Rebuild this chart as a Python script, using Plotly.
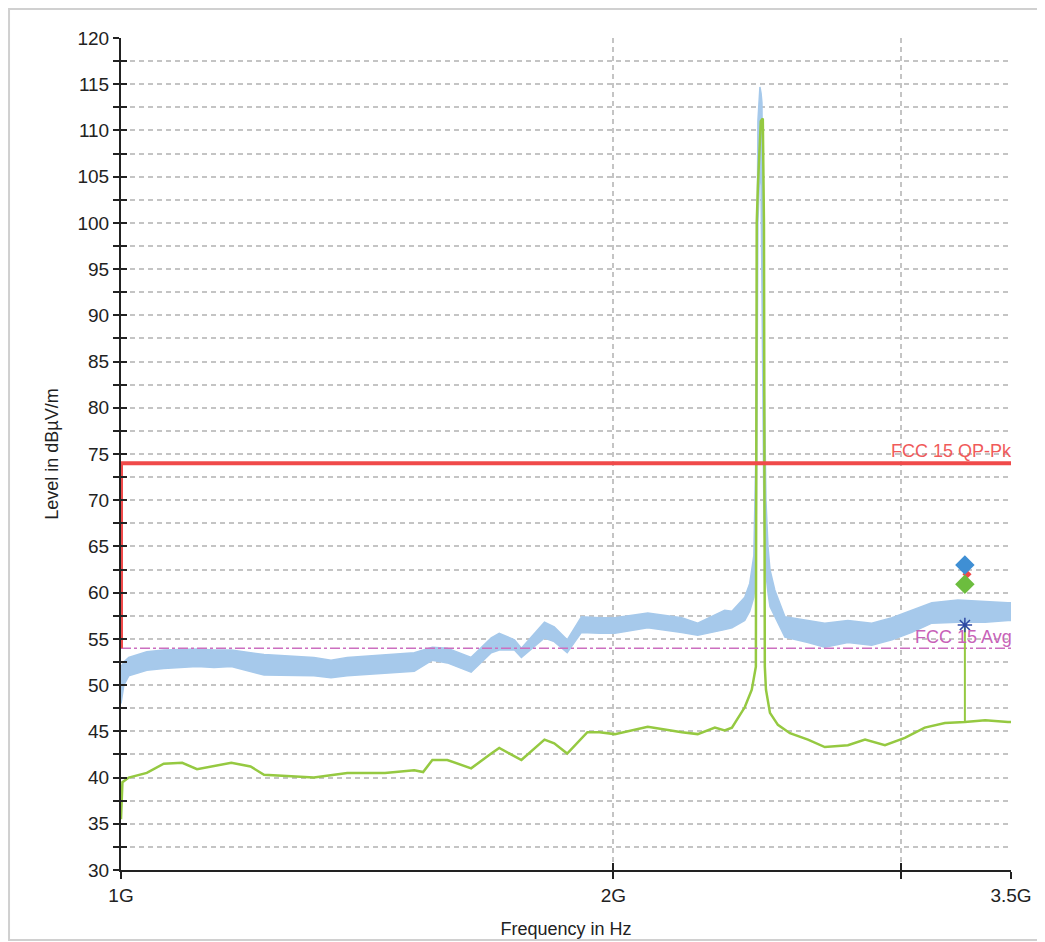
import plotly.graph_objects as go

# peak detector trace, read as an upper / lower envelope of the noisy band
blue_freq_ghz = [1.000, 1.004, 1.011, 1.037, 1.062, 1.113, 1.140, 1.168, 1.223, 1.312,
                 1.344, 1.375, 1.511, 1.550, 1.583, 1.637, 1.684, 1.703, 1.740, 1.757,
                 1.815, 1.840, 1.874, 1.912, 1.961, 2.004, 2.099, 2.202, 2.252, 2.339,
                 2.363, 2.406, 2.423, 2.437, 2.444, 2.448, 2.451, 2.458, 2.462, 2.465,
                 2.468, 2.472, 2.479, 2.486, 2.493, 2.510, 2.546, 2.630, 2.693, 2.782,
                 2.877, 2.960, 3.044, 3.131, 3.248, 3.375, 3.485, 3.500]
blue_hi = [52.0, 52.5, 53.0, 53.6, 53.8, 53.9, 53.8, 53.8, 53.3, 53.0,
           52.7, 53.0, 53.5, 54.1, 54.0, 53.0, 55.1, 55.6, 54.9, 54.0,
           56.8, 56.3, 54.9, 57.4, 57.3, 57.3, 57.8, 57.3, 56.7, 58.1,
           58.0, 59.5, 61.0, 64.0, 75.0, 102.0, 111.0, 114.7, 114.0, 113.0,
           100.0, 85.0, 70.0, 65.0, 62.5, 60.3, 57.4, 57.0, 56.7, 57.0,
           56.7, 57.3, 58.1, 58.9, 59.2, 59.0, 58.9, 58.9]
blue_lo = [48.0, 50.0, 51.0, 51.6, 51.8, 52.0, 51.9, 52.0, 51.1, 51.0,
           50.8, 51.0, 51.5, 52.7, 52.4, 51.4, 53.5, 53.8, 53.8, 53.0,
           55.1, 54.7, 53.5, 55.7, 55.6, 55.6, 56.2, 55.7, 55.4, 56.0,
           56.2, 57.0, 58.0, 59.5, 62.0, 80.0, 100.0, 106.0, 104.0, 95.0,
           80.0, 68.0, 62.0, 60.0, 58.5, 57.4, 55.2, 54.6, 54.1, 54.6,
           54.3, 54.9, 55.7, 56.7, 56.8, 56.8, 57.0, 57.0]

# average detector trace
green_freq_ghz = [1.000, 1.002, 1.011, 1.037, 1.062, 1.090, 1.113, 1.168, 1.200, 1.223,
                  1.312, 1.375, 1.450, 1.511, 1.530, 1.550, 1.583, 1.637, 1.684, 1.703,
                  1.757, 1.815, 1.840, 1.874, 1.928, 1.961, 2.004, 2.099, 2.202, 2.252,
                  2.307, 2.339, 2.363, 2.406, 2.430, 2.444, 2.447, 2.451, 2.461, 2.468,
                  2.472, 2.475, 2.479, 2.493, 2.521, 2.564, 2.630, 2.693, 2.782, 2.850,
                  2.931, 3.014, 3.100, 3.189, 3.280, 3.375, 3.485, 3.500]
green_level = [35.5, 39.5, 40.0, 40.5, 41.5, 41.6, 40.9, 41.6, 41.2, 40.3,
               40.0, 40.5, 40.5, 40.8, 40.6, 41.9, 41.9, 41.0, 42.6, 43.2,
               41.9, 44.1, 43.7, 42.6, 44.9, 44.9, 44.7, 45.5, 44.9, 44.7,
               45.4, 45.1, 45.4, 47.6, 49.5, 52.0, 100.0, 104.0, 111.0, 111.3,
               100.0, 52.0, 49.5, 47.0, 45.7, 44.8, 44.1, 43.3, 43.5, 44.1,
               43.5, 44.3, 45.4, 45.9, 46.0, 46.2, 46.0, 46.0]

# limit lines
qp_freq_ghz = [1.0, 1.0, 3.5]
qp_level = [54.0, 74.0, 74.0]
avg_freq_ghz = [1.0, 3.5]
avg_level = [54.0, 54.0]

# final measurement at 3.28 GHz
final_freq_ghz = 3.28
final_pk = 63.0
final_avg = 60.9
final_star = 56.5
final_base = 46.0

y_ticks = [30 + 2.5 * i for i in range(37)]
y_text = [str(int(v)) if v % 5 == 0 else '' for v in y_ticks]
x_ticks = [1e9, 2e9, 3e9, 3.5e9]
x_text = ['1G', '2G', '', '3.5G']

BLUE = '#a6c9eb'
GREEN = '#95c941'
RED = '#f04a4a'
PINK = '#cc6fbf'
FONT = 'Liberation Sans, Arial, sans-serif'

fig = go.Figure()

band_x = [f * 1e9 for f in blue_freq_ghz] + [f * 1e9 for f in blue_freq_ghz[::-1]]
band_y = blue_hi + blue_lo[::-1]
fig.add_trace(go.Scatter(x=band_x, y=band_y, mode='lines', fill='toself', fillcolor=BLUE,
                         line=dict(color=BLUE, width=1.5), hoverinfo='skip'))

fig.add_trace(go.Scatter(x=[f * 1e9 for f in green_freq_ghz], y=green_level, mode='lines',
                         line=dict(color=GREEN, width=2.5)))

fig.add_trace(go.Scatter(x=[f * 1e9 for f in avg_freq_ghz], y=avg_level, mode='lines',
                         line=dict(color=PINK, width=1.5, dash='10px,3px,3px,3px')))

fig.add_trace(go.Scatter(x=[f * 1e9 for f in qp_freq_ghz], y=qp_level, mode='lines',
                         line=dict(color=RED, width=4)))

# final measurement markers
fx = final_freq_ghz * 1e9
fig.add_trace(go.Scatter(x=[fx, fx], y=[final_base, final_star], mode='lines',
                         line=dict(color=GREEN, width=2)))
fig.add_trace(go.Scatter(x=[fx * 1.003], y=[62.0], mode='markers',
                         marker=dict(symbol='diamond', size=7, color=RED)))
fig.add_trace(go.Scatter(x=[fx], y=[final_pk], mode='markers',
                         marker=dict(symbol='diamond', size=15, color='#3f8fd4')))
fig.add_trace(go.Scatter(x=[fx], y=[final_avg], mode='markers',
                         marker=dict(symbol='diamond', size=15, color='#6cbd3e')))
fig.add_trace(go.Scatter(x=[fx], y=[final_star], mode='markers',
                         marker=dict(symbol='asterisk-open', size=12, color='#2f4aa3',
                                     line=dict(color='#2f4aa3', width=1.5))))

# invisible trace so the overlay axes (inner tick marks) are drawn
fig.add_trace(go.Scatter(x=[2e9], y=[50], xaxis='x2', yaxis='y2', mode='markers',
                         marker=dict(opacity=0), hoverinfo='skip'))

tick_font = dict(family=FONT, size=19, color='#222222')
title_font = dict(family=FONT, size=18, color='#222222')
fig.update_layout(
    width=1045, height=942,
    margin=dict(l=113, r=42, t=30, b=80),
    paper_bgcolor='white', plot_bgcolor='white',
    showlegend=False,
    font=dict(family=FONT),
    xaxis=dict(type='log', range=[9, 9.544068], tickvals=x_ticks, ticktext=x_text,
               ticks='outside', ticklen=7, tickwidth=1.5, tickcolor='#222222',
               showline=True, linecolor='#222222', linewidth=2,
               showgrid=True, gridcolor='#c4c4c4', gridwidth=1.5, griddash='5px,4px',
               tickfont=tick_font, zeroline=False,
               title=dict(text='Frequency in Hz', font=title_font, standoff=18)),
    yaxis=dict(range=[30, 120], tickvals=y_ticks, ticktext=y_text,
               ticks='outside', ticklen=6, tickwidth=1.5, tickcolor='#222222',
               showline=True, linecolor='#222222', linewidth=2,
               showgrid=True, gridcolor='#c4c4c4', gridwidth=1.5, griddash='5px,4px',
               tickfont=tick_font, zeroline=False,
               title=dict(text='Level in dBµV/m', font=title_font, standoff=14)),
    xaxis2=dict(type='log', range=[9, 9.544068], overlaying='x', tickvals=x_ticks,
                ticks='inside', ticklen=7, tickwidth=1.5, tickcolor='#222222',
                showticklabels=False, showgrid=False, showline=False, zeroline=False),
    yaxis2=dict(range=[30, 120], overlaying='y', side='left', tickvals=y_ticks,
                ticks='inside', ticklen=6, tickwidth=1.5, tickcolor='#222222',
                showticklabels=False, showgrid=False, showline=False, zeroline=False),
)

fig.add_annotation(text='FCC 15 QP-Pk', xref='paper', yref='y', x=1.003, y=74,
                   xanchor='right', yanchor='bottom', showarrow=False, yshift=0,
                   font=dict(family=FONT, size=18, color='#f05a5a'))
fig.add_annotation(text='FCC 15 Avg', xref='paper', yref='y', x=1.003, y=54,
                   xanchor='right', yanchor='bottom', showarrow=False, yshift=-1,
                   font=dict(family=FONT, size=18, color='#c862b8'))

# light frame around the whole picture
fig.add_shape(type='rect', xref='paper', yref='paper', x0=-0.1258, x1=1.0326,
              y0=-0.0841, y1=1.0349, line=dict(color='#d0d0d0', width=2), layer='below')

fig.write_html('out.html')
